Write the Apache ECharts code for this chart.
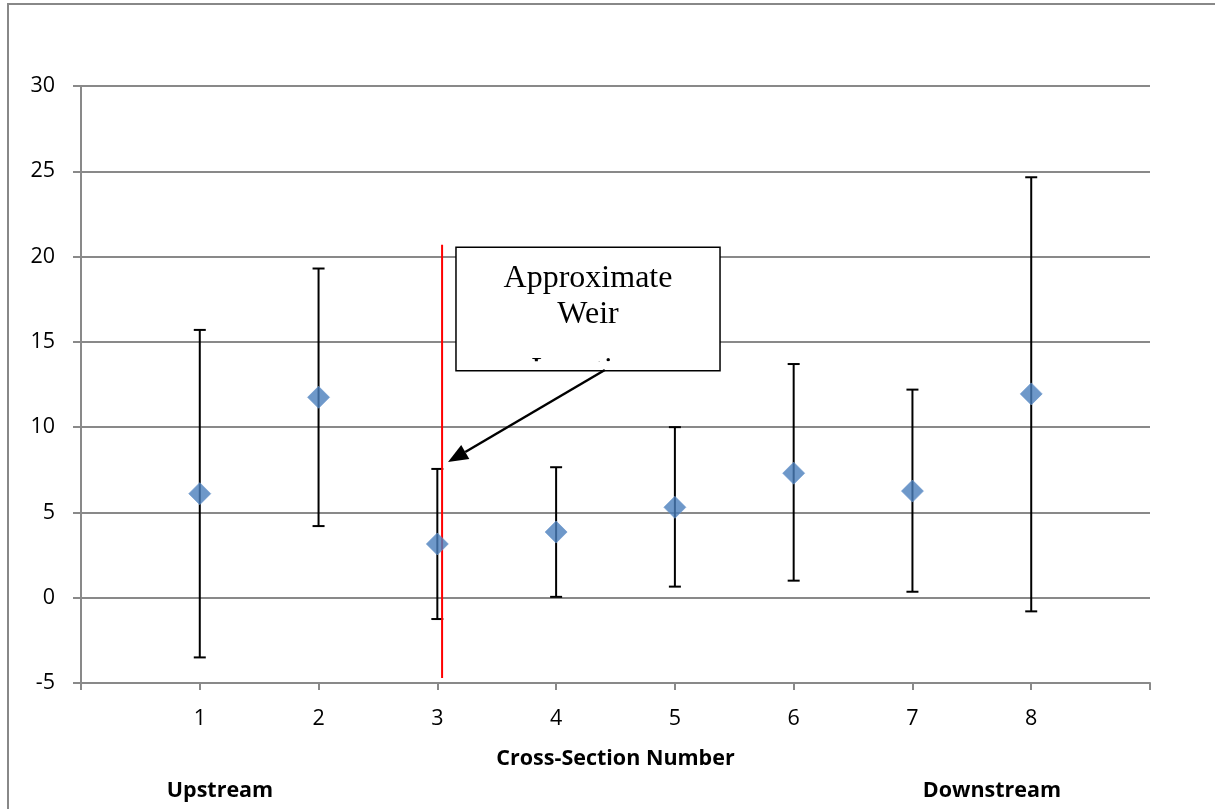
<!DOCTYPE html>
<html><head><meta charset="utf-8">
<script src="https://cdn.jsdelivr.net/npm/echarts@6/dist/echarts.min.js"></script>
<style>html,body{margin:0;padding:0;background:#fff}#c{width:1215px;height:809px}</style>
</head><body><div id="c"></div>
<script>
const crossSections = [1, 2, 3, 4, 5, 6, 7, 8];
const meanValues = [6.1, 11.75, 3.15, 3.85, 5.3, 7.3, 6.25, 11.95];
const upperValues = [15.7, 19.3, 7.55, 7.65, 10.0, 13.7, 12.2, 24.65];
const lowerValues = [-3.5, 4.2, -1.25, 0.05, 0.65, 1.0, 0.35, -0.8];
const weirX = [3.04, 3.04];
const weirY = [20.7, -4.7];
const yTicks = [-5, 0, 5, 10, 15, 20, 25, 30];
const annotationText = ['Approximate', 'Weir', 'Location'];
const xAxisTitle = 'Cross-Section Number';
const leftNote = 'Upstream';
const rightNote = 'Downstream';

const FONT = '"Open Sans", "Noto Sans", sans-serif';
const GRID = '#898989';
const FS = 21.5;
const chart = echarts.init(document.getElementById('c'), null, {renderer: 'canvas'});

const option = {
  animation: false,
  backgroundColor: '#fff',
  grid: {left: 81, right: 65, top: 86, bottom: 126},
  xAxis: {
    type: 'value', min: 0, max: 9, interval: 1,
    name: xAxisTitle, nameLocation: 'middle', nameGap: 65,
    nameTextStyle: {fontFamily: FONT, fontWeight: 'bold', fontSize: FS, color: '#000'},
    axisLine: {show: true, onZero: false, lineStyle: {color: GRID, width: 2}},
    axisTick: {show: true, length: 7, lineStyle: {color: GRID, width: 2}},
    splitLine: {show: false},
    axisLabel: {
      margin: 25, fontFamily: FONT, fontSize: FS, color: '#000',
      formatter: v => crossSections.indexOf(v) >= 0 ? String(v) : ''
    }
  },
  yAxis: {
    type: 'value', min: yTicks[0], max: yTicks[yTicks.length - 1], interval: 5,
    axisLine: {show: true, lineStyle: {color: GRID, width: 2}},
    axisTick: {show: true, length: 8, lineStyle: {color: GRID, width: 2}},
    splitLine: {show: true, lineStyle: {color: GRID, width: 2}},
    axisLabel: {margin: 26, fontFamily: FONT, fontSize: FS, color: '#000'}
  },
  series: [
    {
      type: 'custom', name: 'err', z: 3,
      data: crossSections.map((x, i) => [x, lowerValues[i], upperValues[i]]),
      renderItem: function (params, api) {
        const lo = api.coord([api.value(0), api.value(1)]);
        const hi = api.coord([api.value(0), api.value(2)]);
        const w = 6;
        const st = {stroke: '#000', lineWidth: 2};
        return {type: 'group', children: [
          {type: 'line', shape: {x1: lo[0], y1: lo[1], x2: hi[0], y2: hi[1]}, style: st},
          {type: 'line', shape: {x1: lo[0] - w, y1: lo[1], x2: lo[0] + w, y2: lo[1]}, style: st},
          {type: 'line', shape: {x1: hi[0] - w, y1: hi[1], x2: hi[0] + w, y2: hi[1]}, style: st}
        ]};
      }
    },
    {
      type: 'line', name: 'weir', z: 4,
      data: weirX.map((x, i) => [x, weirY[i]]),
      symbol: 'none', lineStyle: {color: '#ff0000', width: 2}
    },
    {
      type: 'scatter', name: 'mean', z: 5,
      data: crossSections.map((x, i) => [x, meanValues[i]]),
      symbol: 'diamond', symbolSize: [22, 22],
      itemStyle: {color: '#4a7ebb', borderColor: '#6a96cc', borderWidth: 0.8}
    }
  ]
};
chart.setOption(option);

function px(x, y) { return chart.convertToPixel({gridIndex: 0}, [x, y]); }

const b0 = px(3.157, 20.55), b1 = px(5.38, 13.3);
const bx = b0[0], by = b0[1], bw = b1[0] - b0[0], bh = b1[1] - b0[1];
const cx = bx + bw / 2;
const a0 = px(4.41, 13.35), a1 = px(3.09, 7.95);
const ang = Math.atan2(a1[1] - a0[1], a1[0] - a0[0]);
const hl = 20, hw = 8;
const base = [a1[0] - hl * Math.cos(ang), a1[1] - hl * Math.sin(ang)];
const head = [
  a1,
  [base[0] + hw * Math.sin(ang), base[1] - hw * Math.cos(ang)],
  [base[0] - hw * Math.sin(ang), base[1] + hw * Math.cos(ang)]
];
const SERIF = '32px "Liberation Serif", "Times New Roman", serif';

chart.setOption({
  graphic: [
    {type: 'rect', z: 0, silent: true, shape: {x: 8, y: 4, width: 1300, height: 900},
     style: {fill: null, stroke: '#888', lineWidth: 2}},
    {type: 'rect', z: 10, shape: {x: bx, y: by, width: bw, height: bh},
     style: {fill: '#fff', stroke: null}},
    {type: 'text', z: 11, style: {text: annotationText[0], x: cx, y: by + 31, textAlign: 'center', textVerticalAlign: 'middle',
      font: SERIF, fill: '#000'}},
    {type: 'text', z: 11, style: {text: annotationText[1], x: cx, y: by + 67, textAlign: 'center', textVerticalAlign: 'middle',
      font: SERIF, fill: '#000'}},
    {type: 'text', z: 11, style: {text: annotationText[2], x: cx, y: by + 123, textAlign: 'center', textVerticalAlign: 'middle',
      font: SERIF, fill: '#000'}},
    {type: 'rect', z: 12, shape: {x: bx + 2, y: by + 114, width: bw - 4, height: 50},
     style: {fill: '#fff', stroke: null}},
    {type: 'rect', z: 13, shape: {x: bx, y: by, width: bw, height: bh},
     style: {fill: null, stroke: '#000', lineWidth: 1.5}},
    {type: 'line', z: 14, shape: {x1: a0[0], y1: a0[1], x2: base[0], y2: base[1]},
     style: {stroke: '#000', lineWidth: 2.5}},
    {type: 'polygon', z: 14, shape: {points: head}, style: {fill: '#000'}},
    {type: 'text', z: 11, style: {text: leftNote, x: 220, y: 791, textAlign: 'center', textVerticalAlign: 'middle',
      font: 'bold ' + FS + 'px ' + FONT, fill: '#000'}},
    {type: 'text', z: 11, style: {text: rightNote, x: 992, y: 791, textAlign: 'center', textVerticalAlign: 'middle',
      font: 'bold ' + FS + 'px ' + FONT, fill: '#000'}}
  ]
});
</script></body></html>
